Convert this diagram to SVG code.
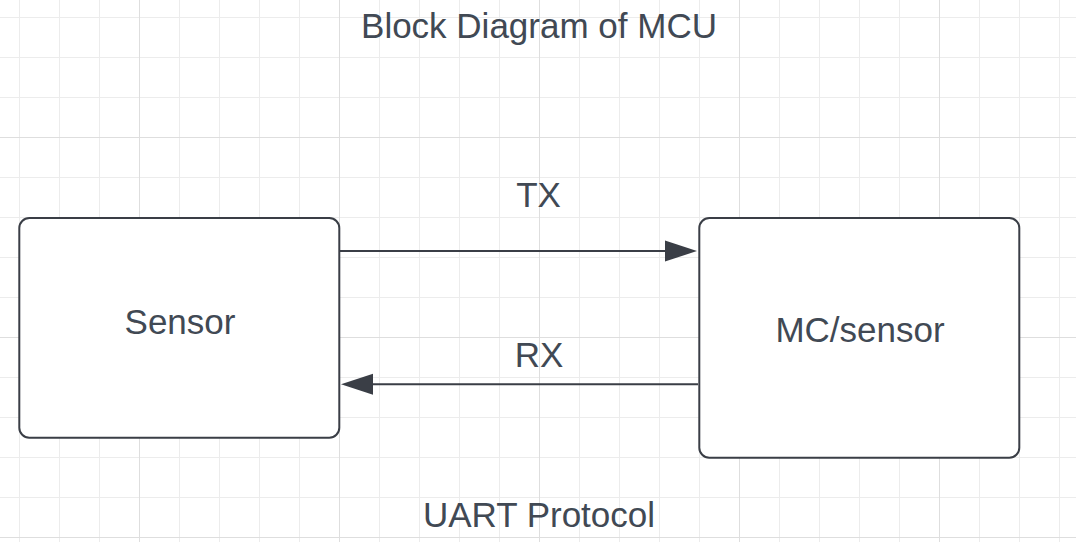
<svg xmlns="http://www.w3.org/2000/svg" width="1076" height="542" viewBox="0 0 1076 542">
  <style>
    .box { fill: #ffffff; stroke: #3a3e46; stroke-width: 2; }
    .wire { fill: none; stroke: #3a3e46; stroke-width: 2; }
    .lbl { font-family: "Liberation Sans", Arial, sans-serif; font-size: 35px; fill: #414954; text-anchor: middle; }
  </style>
  <defs>
    <pattern id="minor" patternUnits="userSpaceOnUse" x="19" y="17" width="40" height="40">
      <path d="M0.5 0V40M0 0.5H40" stroke="#ececec" stroke-width="1" fill="none"/>
    </pattern>
    <pattern id="major" patternUnits="userSpaceOnUse" x="139" y="137" width="200" height="200">
      <path d="M0.5 0V200M0 0.5H200" stroke="#dedede" stroke-width="1" fill="none"/>
    </pattern>
    <marker id="arrow" markerUnits="userSpaceOnUse" markerWidth="34" markerHeight="24" refX="0" refY="11" orient="auto" viewBox="0 0 34 22">
      <path d="M0 0.5L32 11L0 21.5Z" fill="#3a3e46"/>
    </marker>
  </defs>
  <rect width="1076" height="542" fill="#ffffff"/>
  <rect width="1076" height="542" fill="url(#minor)"/>
  <rect width="1076" height="542" fill="url(#major)"/>

  <g id="title">
    <text class="lbl" x="539" y="37.5">Block Diagram of MCU</text>
  </g>

  <g id="sensor">
    <rect class="box" x="19.3" y="218" width="320" height="219.7" rx="10" ry="10"/>
    <text class="lbl" x="180" y="334">Sensor</text>
  </g>

  <g id="mc-sensor">
    <rect class="box" x="699.3" y="218" width="320" height="239.7" rx="10" ry="10"/>
    <text class="lbl" x="860" y="341.5">MC/sensor</text>
  </g>

  <g id="connectors">
    <path class="wire" d="M340 251H665" marker-end="url(#arrow)"/>
    <path class="wire" d="M698 384.3H373" marker-end="url(#arrow)"/>
    <text class="lbl" x="538.5" y="207.3">TX</text>
    <text class="lbl" x="539" y="366.7">RX</text>
  </g>

  <g id="footer">
    <text class="lbl" x="539" y="527.3">UART Protocol</text>
  </g>
</svg>
